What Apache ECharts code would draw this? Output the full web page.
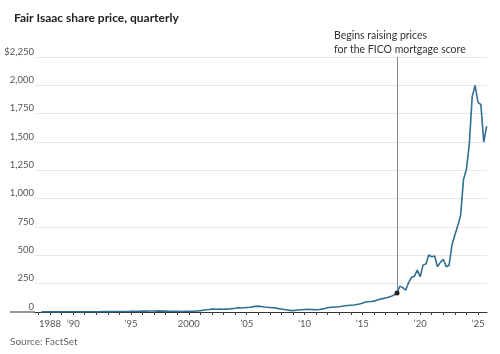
<!DOCTYPE html>
<html>
<head>
<meta charset="utf-8">
<script src="https://cdn.jsdelivr.net/npm/echarts@6/dist/echarts.min.js"></script>
<style>
  html, body { margin: 0; padding: 0; background: #fff; }
  #chart { width: 500px; height: 354px; }
</style>
</head>
<body>
<div id="chart"></div>
<script>
// quarterly closes, starting 1987 Q2 (x = year + (quarter - 1) / 4)
const startYear = 1987.25
const prices = [
  1.5, 2.0, 1.2,
  1.3, 1.4, 1.5, 1.4,
  1.6, 1.8, 2.0, 1.9,
  1.8, 1.6, 1.4, 1.5,
  1.8, 2.0, 2.2, 2.5,
  2.6, 2.8, 3.0, 3.2,
  3.4, 3.6, 3.5, 3.8,
  4.0, 4.2, 4.5, 4.8,
  5.5, 6.0, 6.5, 7.0,
  7.5, 7.8, 8.5, 9.0,
  8.5, 8.0, 9.5, 8.0,
  7.5, 7.0, 6.0, 6.5,
  6.0, 5.5, 5.0, 6.5,
  7, 6, 7, 9.5,
  12, 16, 20, 22,
  25, 27, 24, 26,
  24, 25, 26, 30,
  33, 37, 35, 38,
  40, 42, 45, 50,
  52, 48, 44, 42,
  40, 38, 36, 30,
  26, 22, 18, 14,
  12, 15, 18, 20,
  22, 24, 22, 21,
  20, 22, 25, 30,
  38, 42, 42, 44,
  46, 50, 55, 58,
  60, 62, 66, 70,
  78, 88, 90, 92,
  96, 104, 112, 118,
  124, 130, 138, 150,
  168, 228, 215, 192,
  260, 306, 315, 370,
  311, 414, 423, 503,
  488, 494, 400, 438,
  465, 400, 412, 591,
  680, 760, 855, 1170,
  1260, 1480, 1900, 2000,
  1850, 1830, 1500, 1640
]
const yTicks = [0, 250, 500, 750, 1000, 1250, 1500, 1750, 2000, 2250]
const xLabelYears = [1988, 1990, 1995, 2000, 2005, 2010, 2015, 2020, 2025]
const xTickYears = []
for (let y = 1987; y <= 2025; y++) xTickYears.push(y)
const eventYear = 2018
const eventPrice = 168

const seriesData = prices.map((v, i) => [startYear + i / 4, v])

const chart = echarts.init(document.getElementById('chart'))
const font = 'Lato, "Open Sans", sans-serif'

chart.setOption({
  animation: false,
  textStyle: { fontFamily: font },
  title: {
    text: 'Fair Isaac share price, quarterly',
    left: 9,
    top: 7,
    textStyle: { fontSize: 12, fontWeight: 'bold', color: '#222', fontFamily: font }
  },
  grid: { left: 35, right: 13, top: 57, bottom: 42 },
  xAxis: {
    type: 'value',
    min: 1986.7,
    max: 2025.78,
    axisLine: { show: true, lineStyle: { color: '#333', width: 1 } },
    axisTick: {
      show: true,
      customValues: xTickYears,
      length: 3,
      lineStyle: { color: '#444' }
    },
    axisLabel: {
      customValues: xLabelYears,
      margin: 7,
      fontSize: 9.5,
      color: '#555',
      formatter: v => (v === 1988 || v === 2000) ? String(v) : '\u2019' + String(v).slice(2)
    },
    splitLine: { show: false }
  },
  yAxis: {
    type: 'value',
    min: 0,
    max: 2250,
    interval: 250,
    axisLine: { show: false },
    axisTick: { show: false },
    axisLabel: {
      align: 'right',
      verticalAlign: 'bottom',
      lineHeight: 11,
      margin: 1,
      fontSize: 9.5,
      color: '#555',
      formatter: v => (v === 2250 ? '$' : '') + v.toLocaleString('en-US')
    },
    splitLine: { lineStyle: { color: '#e8e8e8', width: 1 } }
  },
  graphic: [
    {
      type: 'line',
      shape: { x1: 10, y1: 312, x2: 35, y2: 312 },
      style: { stroke: '#333', lineWidth: 1 },
      z: 10
    },
    {
      type: 'text',
      left: 334,
      top: 29,
      style: {
        text: 'Begins raising prices\nfor the FICO mortgage score',
        fontSize: 10.5,
        lineHeight: 14,
        fill: '#333',
        fontFamily: font
      }
    },
    {
      type: 'text',
      left: 10,
      top: 337,
      style: { text: 'Source: FactSet', fontSize: 10, fill: '#666', fontFamily: font }
    }
  ],
  series: [
    {
      type: 'line',
      data: seriesData,
      showSymbol: false,
      smooth: false,
      lineStyle: { color: '#336f93', width: 1.6 },
      itemStyle: { color: '#336f93' },
      z: 3,
      markLine: {
        silent: true,
        symbol: ['none', 'none'],
        label: { show: false },
        lineStyle: { color: '#888', width: 1, type: 'solid' },
        data: [[{ coord: [eventYear, eventPrice] }, { coord: [eventYear, 2250] }]]
      },
      markPoint: {
        silent: true,
        symbol: 'circle',
        symbolSize: 5,
        label: { show: false },
        itemStyle: { color: '#222' },
        data: [{ coord: [eventYear, eventPrice] }]
      }
    }
  ]
})
</script>
</body>
</html>
